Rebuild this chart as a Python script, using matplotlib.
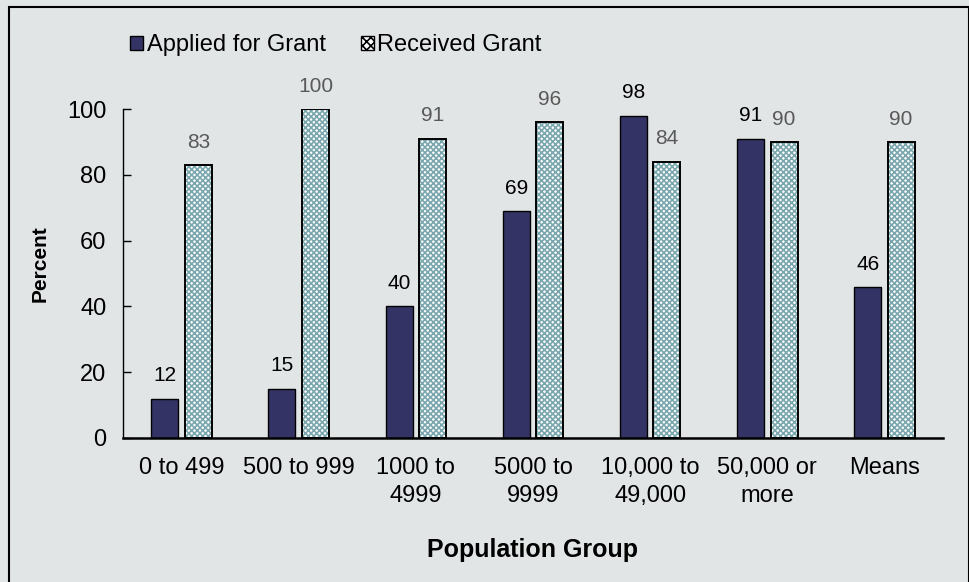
import matplotlib.pyplot as plt
import matplotlib.patches as mpatches
import numpy as np

plt.rcParams['font.family'] = ['Liberation Sans', 'DejaVu Sans']
plt.rcParams['hatch.linewidth'] = 1.2
plt.rcParams['hatch.color'] = '#7AA6AE'

groups = ['0 to 499', '500 to 999', '1000 to\n4999', '5000 to\n9999',
          '10,000 to\n49,000', '50,000 or\nmore', 'Means']
applied = [12, 15, 40, 69, 98, 91, 46]
received = [83, 100, 91, 96, 84, 90, 90]

bg = '#E2E5E6'
navy = '#333366'
teal = '#7AA6AE'

fig = plt.figure(figsize=(9.7, 5.82), dpi=100, facecolor=bg)
ax = fig.add_axes([123 / 970, 144 / 582, 820 / 970, 329 / 582], facecolor=bg)

x = np.arange(len(groups))
w = 0.23
off = 0.143

ax.bar(x - off, applied, w, color=navy, edgecolor='black', linewidth=1)
ax.bar(x + off, received, w, color='white', edgecolor=teal, hatch='xxxxxx', linewidth=0)
ax.bar(x + off, received, w, fill=False, edgecolor='black', linewidth=1.4)

for i in range(len(groups)):
    ax.text(x[i] - off, applied[i] + 4, str(applied[i]), ha='center', va='bottom',
            fontsize=15, color='black', clip_on=False)
    ax.text(x[i] + off, received[i] + 4, str(received[i]), ha='center', va='bottom',
            fontsize=15, color='#595959', clip_on=False)

ax.set_xlim(-0.5, len(groups) - 0.5)
ax.set_ylim(0, 100)
ax.set_yticks([0, 20, 40, 60, 80, 100])
ax.set_xticks(x)
ax.set_xticklabels(groups, fontsize=17, linespacing=1.35)
ax.tick_params(axis='y', direction='in', length=6, width=1, labelsize=17, pad=12)
ax.tick_params(axis='x', length=0, pad=14)
for s in ['top', 'right']:
    ax.spines[s].set_visible(False)
ax.spines['left'].set_linewidth(1)
ax.spines['bottom'].set_linewidth(1.8)

ax.set_ylabel('Percent', fontsize=15, fontweight='bold')
ax.yaxis.set_label_coords(-0.09, 0.53)
ax.set_xlabel('Population Group', fontsize=18, fontweight='bold', labelpad=22)

h1 = mpatches.Patch(facecolor=navy, edgecolor='black', label='Applied for Grant')
h2 = mpatches.Patch(facecolor='white', edgecolor='black', hatch='xxxx', label='Received Grant')
fig.legend(handles=[h1, h2], loc='center left', bbox_to_anchor=(0.134, 0.922),
           ncol=2, frameon=False, fontsize=17, handlelength=0.55, handleheight=0.55,
           handletextpad=0.15, columnspacing=1.5, borderpad=0, borderaxespad=0)

fig.patches.append(mpatches.Rectangle((9 / 970, -0.01), 960 / 970, 1.01 - 7 / 582,
                                      transform=fig.transFigure,
                                      fill=False, edgecolor='black', linewidth=1.5))

plt.savefig('out.png', dpi=100, facecolor=bg)
